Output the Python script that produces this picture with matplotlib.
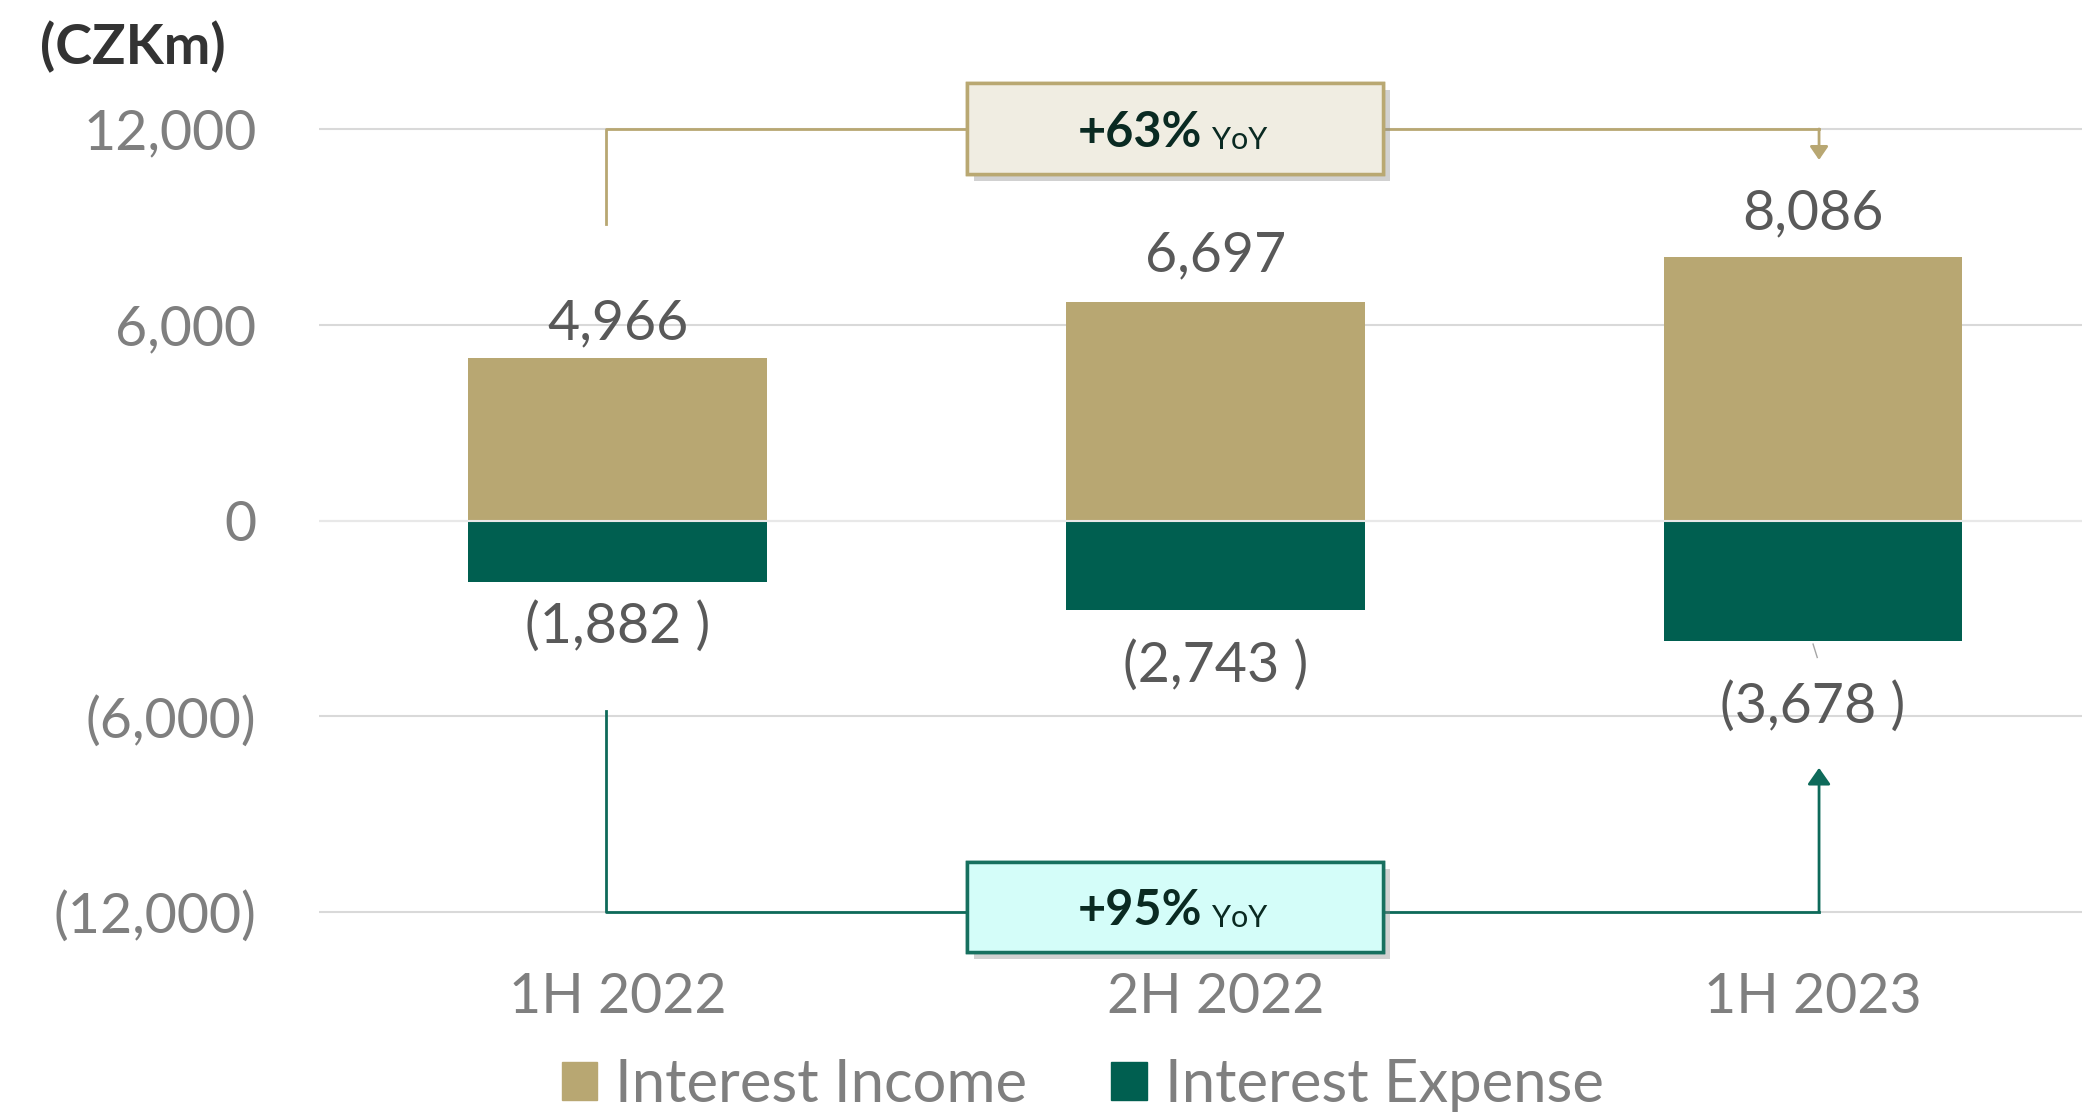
import matplotlib.pyplot as plt
import matplotlib.patheffects as pe
from matplotlib.patches import Rectangle, Patch

plt.rcParams['font.family'] = ['Lato', 'DejaVu Sans']

categories = ['1H 2022', '2H 2022', '1H 2023']
income = [4966, 6697, 8086]
expense = [1882, 2743, 3678]
yticks = [-12000, -6000, 0, 6000, 12000]
ytick_labels = ['(12,000)', '(6,000)', '0', '6,000', '12,000']
income_growth = '+63%'
expense_growth = '+95%'

tan = '#B8A772'
green = '#005F50'
grey = '#7F7F7F'
dark = '#595959'

fig = plt.figure(figsize=(20.82, 11.17), dpi=100)
ax = fig.add_axes([319 / 2082, 1 - 961 / 1117, 1 - 319 / 2082, 881 / 1117])

x = list(range(len(categories)))
ax.bar(x, income, width=0.5, color=tan, zorder=2)
ax.bar(x, [-v for v in expense], width=0.5, color=green, zorder=2)
ax.axhline(0, color='#E8E8E8', lw=1.5, zorder=3)

ax.set_xlim(-0.5, 2.45)
ax.set_ylim(-13500, 13500)
ax.set_yticks(yticks, ytick_labels)
ax.set_xticks(x, categories)
ax.tick_params(axis='both', length=0, labelsize=40, labelcolor=grey)
ax.tick_params(axis='y', pad=45)
ax.tick_params(axis='x', pad=8)
ax.grid(axis='y', color='#D9D9D9', lw=1.5, zorder=0)
ax.set_axisbelow(True)
for s in ax.spines.values():
    s.set_visible(False)

# value labels
pos_off = [25, 33, 31]
for i, v in enumerate(income):
    ax.annotate(f'{v:,}', (i, v), xytext=(0, pos_off[i]), textcoords='offset points',
                ha='center', va='center', fontsize=40, color=dark)
neg_off = [32, 40, 48]
for i, v in enumerate(expense):
    ax.annotate(f'({v:,} )', (i, -v), xytext=(0, -neg_off[i]), textcoords='offset points',
                ha='center', va='center', fontsize=40, color=dark)
# leader line on the last label
ax.plot([2.0, 2.007], [-expense[2] - 110, -expense[2] - 520], color='#A6A6A6', lw=1, zorder=4)

# brackets
ax.plot([-0.02, -0.02, 2.01], [9100, 12000, 12000], color=tan, lw=2, zorder=4)
ax.annotate('', xy=(2.01, 11050), xytext=(2.01, 12000),
            arrowprops=dict(arrowstyle='-|>,head_length=0.8,head_width=0.55', color=tan,
                            lw=2, shrinkA=0, shrinkB=0), zorder=4)
ax.plot([-0.02, -0.02, 2.01], [-5825, -12000, -12000], color='#0E6A5A', lw=2, zorder=4)
ax.annotate('', xy=(2.01, -7580), xytext=(2.01, -12000),
            arrowprops=dict(arrowstyle='-|>,head_length=1.0,head_width=0.7', color='#0E6A5A',
                            lw=2, shrinkA=0, shrinkB=0), zorder=4)

shadow = [pe.withSimplePatchShadow(offset=(5, -5), shadow_rgbFace='#8C8C8C', alpha=0.4), pe.Normal()]
boxes = [((0.584, 10631), '#F0EDE2', '#B9A872', 11900, income_growth),
         ((0.584, -13238), '#D4FDF9', '#17705F', -11950, expense_growth)]
for (bx, by), fc, ec, yc, txt in boxes:
    r = Rectangle((bx, by), 0.696, 2770, facecolor=fc, edgecolor=ec, lw=2.5, zorder=5)
    r.set_path_effects(shadow)
    ax.add_patch(r)
    ax.text(0.978, yc, txt, ha='right', va='center', fontsize=35, fontweight='bold',
            color='#0A2A22', zorder=6)
    ax.text(0.995, yc - 230, 'YoY', ha='left', va='center', fontsize=22,
            color='#0A2A22', zorder=6)

fig.text(40 / 2082, 1 - 47 / 1117, '(CZKm)', fontsize=40, fontweight='bold',
         color='#333333', ha='left', va='center')

handles = [Patch(color=tan), Patch(color=green)]
fig.legend(handles, ['Interest Income', 'Interest Expense'], loc='center',
           bbox_to_anchor=(0.52, 0.029), ncol=2, frameon=False, fontsize=43,
           handlelength=0.6, handleheight=0.6, handletextpad=0.3, columnspacing=1.4,
           labelcolor=grey)

fig.savefig('out.png', dpi=100)
